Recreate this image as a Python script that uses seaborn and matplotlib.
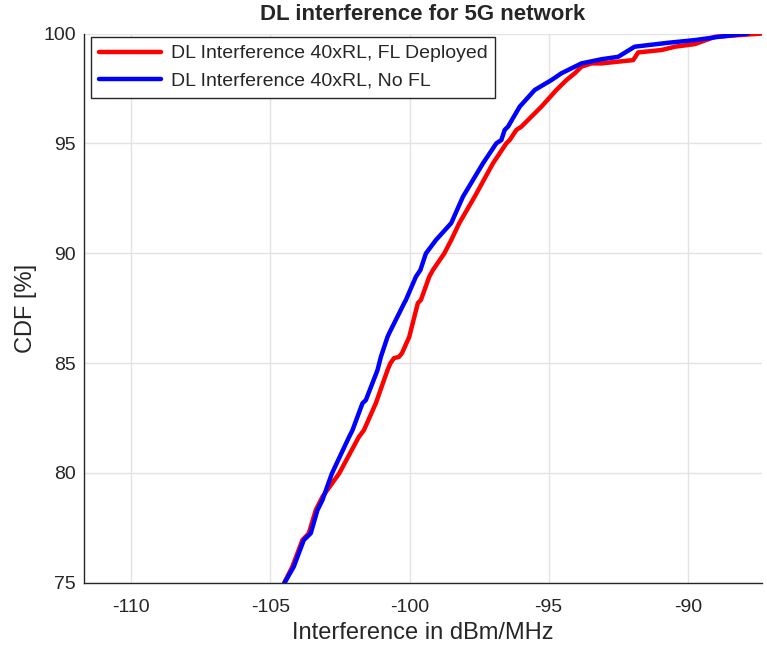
import matplotlib
matplotlib.use("Agg")
import matplotlib.pyplot as plt
import numpy as np
import pandas as pd
import seaborn as sb

# valori (dBm/MHz, CDF %)
x_fl = [-105.0, -104.5, -104.21, -103.85, -103.62, -103.37, -103.19, -103.13, -102.53,
        -101.82, -101.64, -101.21, -100.79, -100.69, -100.56, -100.38, -100.27, -100.01,
        -99.70, -99.59, -99.29, -99.16, -98.75, -98.50, -98.21, -97.66, -97.00, -96.52,
        -96.40, -96.16, -95.98, -95.26, -94.72, -94.36, -94.06, -93.82, -93.46, -93.10,
        -91.96, -91.78, -90.94, -90.46, -89.74, -89.02, -87.33]
cdf_fl = [73.0, 75.0, 75.73, 76.94, 77.25, 78.30, 78.76, 78.91, 79.97,
          81.64, 81.94, 83.17, 84.68, 84.98, 85.22, 85.28, 85.45, 86.19,
          87.73, 87.87, 88.93, 89.23, 89.99, 90.60, 91.37, 92.57, 94.09, 95.00,
          95.15, 95.61, 95.76, 96.67, 97.43, 97.88, 98.19, 98.49, 98.64, 98.64,
          98.79, 99.14, 99.25, 99.40, 99.52, 99.85, 100.0]

x_nofl = [-105.0, -104.49, -104.16, -103.80, -103.55, -103.31, -103.13, -102.79, -102.17,
          -102.05, -101.69, -101.57, -101.15, -101.09, -101.03, -100.79, -100.73, -100.19,
          -100.13, -99.77, -99.61, -99.41, -99.05, -98.50, -98.08, -97.36, -96.88, -96.70,
          -96.58, -96.46, -96.04, -95.50, -94.90, -94.54, -93.82, -93.10, -92.50, -91.91,
          -90.70, -89.75, -88.89, -87.84]
cdf_nofl = [73.0, 75.0, 75.73, 76.94, 77.25, 78.30, 78.76, 79.97, 81.64,
            81.94, 83.17, 83.31, 84.68, 84.98, 85.28, 86.19, 86.36, 87.73,
            87.87, 88.93, 89.23, 89.99, 90.60, 91.37, 92.57, 94.09, 95.00, 95.15,
            95.61, 95.76, 96.67, 97.43, 97.88, 98.19, 98.64, 98.83, 98.94, 99.40,
            99.58, 99.70, 99.85, 100.0]

x_ticks = [-110, -105, -100, -95, -90]
y_ticks = [75, 80, 85, 90, 95, 100]

sb.set_style("white")
plt.rcParams["font.family"] = ["Liberation Sans", "DejaVu Sans"]
plt.rcParams["axes.unicode_minus"] = False

fig = plt.figure(figsize=(7.67, 6.51), dpi=100)
ax = fig.add_axes([0.1095, 0.1049, 0.884, 0.8436])

sb.lineplot(x=x_fl, y=cdf_fl, color="#ff0000", lw=3.2, sort=False, estimator=None,
            label="DL Interference 40xRL, FL Deployed", ax=ax)
sb.lineplot(x=x_nofl, y=cdf_nofl, color="#0000ff", lw=3.2, sort=False, estimator=None,
            label="DL Interference 40xRL, No FL", ax=ax)

ax.set_xlim(-111.7, -87.33)
ax.set_ylim(75, 100)
ax.set_xticks(x_ticks)
ax.set_yticks(y_ticks)
ax.grid(True, color="#e3e3e3", lw=1)
ax.set_axisbelow(True)

for s in ["top", "right"]:
    ax.spines[s].set_visible(False)
for s in ["left", "bottom"]:
    ax.spines[s].set_color("#262626")
    ax.spines[s].set_linewidth(1)

ax.tick_params(direction="in", length=5, width=1, colors="#262626", labelsize=14,
               labelcolor="#262626")
ax.tick_params(axis="x", pad=12)
ax.tick_params(axis="y", pad=6)

ax.set_title("DL interference for 5G network", fontsize=16, fontweight="bold", pad=10)
ax.set_xlabel("Interference in dBm/MHz", fontsize=17, color="#262626", labelpad=4)
ax.set_ylabel("CDF [%]", fontsize=17, color="#262626", labelpad=4)

leg = ax.legend(loc="upper left", bbox_to_anchor=(0.0103, 0.9936), fontsize=14,
                frameon=True, fancybox=False, borderaxespad=0, handlelength=3.2,
                handletextpad=0.5, borderpad=0.4, labelspacing=0.5)
leg.get_frame().set_edgecolor("#262626")
leg.get_frame().set_linewidth(1)
leg.get_frame().set_alpha(1)

fig.savefig("out.png", dpi=100)
